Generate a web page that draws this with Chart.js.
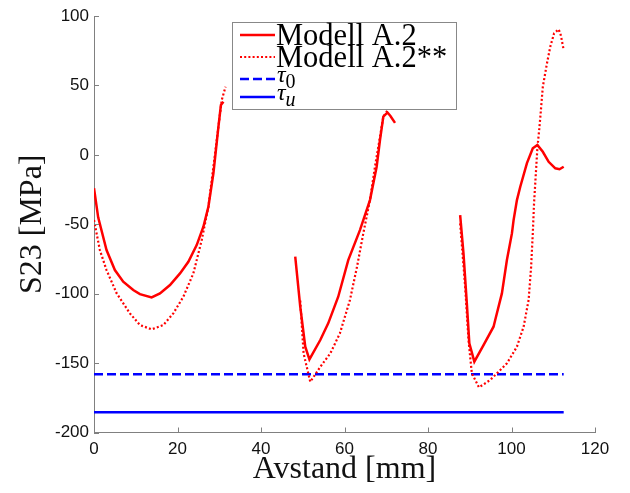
<!DOCTYPE html>
<html>
<head>
<meta charset="utf-8">
<script src="https://cdn.jsdelivr.net/npm/chart.js@4.4.1/dist/chart.umd.min.js"></script>
<style>
  html, body { margin: 0; padding: 0; background: #fff; overflow: hidden; }
  canvas { display: block; }
</style>
</head>
<body>
<canvas id="chart" width="630" height="493"></canvas>
<script>
// ── Data (null = break between the three segments) ──────────────────────────
const modelA2X = [0, 1.0, 3.0, 5.0, 7.0, 9.4, 11.0, 13.8, 15.8, 18.2, 20.6, 22.6, 24.6, 26.2, 27.4, 28.6, 29.8, 30.4, 31.0,
    null, 48.2, 49.4, 50.6, 51.6, 54.2, 56.1, 58.5, 60.9, 63.7, 66.1, 67.7, 68.5, 69.3, 70.3, 71.0, 72.1,
    null, 87.7, 88.5, 89.3, 89.9, 91.1, 93.3, 95.7, 96.1, 97.7, 98.9, 100.1, 100.5, 101.3, 102.1, 103.7,
    105.1, 106.2, 107.5, 108.9, 110.5, 111.5, 112.5];
const modelA2Y = [-24, -45, -68.6, -83, -91.4, -97.4, -100.3, -102.7, -99.8, -93.8, -85.4, -77, -65, -51.8, -37.4, -13.3, 20.2, 35.9, 38.3,
    null, -73.4, -109.4, -138.2, -147.3, -133.4, -121.4, -102.2, -75.8, -54.2, -32.6, -8.6, 10.7, 27.5, 30.5, 28, 23,
    null, -43.4, -71, -107, -135.8, -149, -137, -123.8, -119, -99.8, -75.8, -56.6, -47, -32.6, -23, -6,
    4.7, 7.1, 2.2, -5, -9.7, -10.4, -8.6];

const modelA2sX = [0, 1.4, 3.0, 5.4, 8.6, 11, 13.8, 16.6, 19, 21.4, 23.8, 25.8, 27.4, 28.6, 29.8, 30.6, 31.5,
    null, 49.4, 50.2, 51.8, 54.2, 56.6, 58.9, 61.3, 63, 64.5, 66.1, 67.3, 68.5, 69.3, 70.3,
    null, 87.7, 88.9, 89.7, 90.5, 92.2, 94.9, 96.5, 98.9, 101.3, 102.9, 104.1, 104.7, 105.1, 105.4, 105.8,
    106.2, 106.6, 106.9, 107.5, 108.5, 109.3, 110.2, 111.3, 111.8, 112.5];
const modelA2sY = [-47, -68.6, -83, -99.6, -114.2, -122.6, -125.7, -122.6, -114.2, -102.2, -85.4, -61.4, -37.4, -8.6, 20.2, 39.5, 49,
    null, -105, -143, -163.5, -152.7, -143, -128.6, -104.6, -80.6, -56.6, -32.6, -8.6, 13, 27.5, 32,
    null, -49.4, -95, -133.4, -157.4, -167.5, -162.2, -157.4, -150.2, -138.2, -123.8, -104.6, -80.6, -56.6, -35, -15,
    5, 17, 27, 49, 66, 78, 87.5, 90.4, 86.3, 75.5];

const tauX  = [0, 112.5];
const tau0Y = [-158, -158];
const tauUY = [-185.5, -185.5];

const xTicks = [0, 20, 40, 60, 80, 100, 120];
const yTicks = [-200, -150, -100, -50, 0, 50, 100];

const labels = ['Modell A.2', 'Modell A.2**', 'τ0', 'τu'];

function pts(xs, ys) {
    return xs.map((x, i) => ({ x: x, y: ys[i] }));
}

// ── Inward tick marks (MATLAB style) ──────────────────────────────────────────
const innerTicks = {
    id: 'innerTicks',
    afterDraw(chart) {
        const { ctx, chartArea: a, scales: { x, y } } = chart;
        ctx.save();
        ctx.strokeStyle = '#808080';
        ctx.lineWidth = 1;
        ctx.beginPath();
        xTicks.forEach(v => {
            const px = Math.round(x.getPixelForValue(v)) + 0.5;
            ctx.moveTo(px, a.bottom); ctx.lineTo(px, a.bottom - 5);
        });
        yTicks.forEach(v => {
            const py = Math.round(y.getPixelForValue(v)) + 0.5;
            ctx.moveTo(a.left, py); ctx.lineTo(a.left + 5, py);
        });
        ctx.stroke();
        ctx.restore();
    }
};

// ── Legend box inside the plot ───────────────────────────────────────────────
const boxLegend = {
    id: 'boxLegend',
    afterDraw(chart) {
        const ctx = chart.ctx;
        const bx = 232.5, by = 22.5, bw = 224, bh = 87;
        const rows = [35, 57, 79, 97];
        ctx.save();
        ctx.fillStyle = '#fff';
        ctx.fillRect(bx, by, bw, bh);
        ctx.strokeStyle = '#888';
        ctx.lineWidth = 1;
        ctx.strokeRect(bx, by, bw, bh);
        chart.data.datasets.forEach((ds, i) => {
            const ly = rows[i];
            ctx.strokeStyle = ds.borderColor;
            ctx.lineWidth = ds.borderWidth;
            ctx.setLineDash(ds.borderDash || []);
            ctx.beginPath();
            ctx.moveTo(240, ly); ctx.lineTo(275, ly);
            ctx.stroke();
            ctx.setLineDash([]);
            ctx.fillStyle = '#000';
            ctx.textBaseline = 'alphabetic';
            const txt = ds.label;
            if (txt.startsWith('τ')) {
                ctx.font = 'italic 24px "Liberation Serif"';
                ctx.fillText('τ', 277, ly + 3);
                const w = ctx.measureText('τ').width;
                const sub = txt.slice(1);
                ctx.font = (sub === 'u' ? 'italic ' : '') + '20px "Liberation Serif"';
                ctx.fillText(sub, 277 + w, ly + 9);
            } else {
                ctx.font = '30.5px "Liberation Serif"';
                ctx.fillText(txt, 276, ly + 10);
            }
        });
        ctx.restore();
    }
};

new Chart(document.getElementById('chart').getContext('2d'), {
    type: 'line',
    data: {
        datasets: [{
            label: labels[0],
            data: pts(modelA2X, modelA2Y),
            borderColor: '#ff0000',
            borderWidth: 2.5,
        }, {
            label: labels[1],
            data: pts(modelA2sX, modelA2sY),
            borderColor: '#ff0000',
            borderWidth: 2.2,
            borderDash: [2, 2.2],
        }, {
            label: labels[2],
            data: pts(tauX, tau0Y),
            borderColor: '#0000ff',
            borderWidth: 2.5,
            borderDash: [9, 4],
        }, {
            label: labels[3],
            data: pts(tauX, tauUY),
            borderColor: '#0000ff',
            borderWidth: 2.5,
        }]
    },
    options: {
        responsive: false,
        animation: false,
        devicePixelRatio: 1,
        spanGaps: false,
        elements: { point: { radius: 0 }, line: { tension: 0, borderCapStyle: 'butt' } },
        layout: { padding: { left: 0, top: 16, right: 35, bottom: 0 } },
        plugins: { legend: { display: false }, tooltip: { enabled: false } },
        scales: {
            x: {
                type: 'linear',
                min: 0, max: 120,
                afterBuildTicks: s => { s.ticks = xTicks.map(v => ({ value: v })); },
                afterFit: s => { s.height = 60.5; },
                grid: { display: false, drawTicks: false },
                border: { color: '#808080', width: 1 },
                ticks: { color: '#111', padding: 7, font: { family: '"Liberation Sans", Arial', size: 17 } },
                title: {
                    display: true, text: 'Avstand [mm]', color: '#111',
                    font: { family: '"Liberation Serif"', size: 32 }, padding: { top: 0, bottom: 4 }
                }
            },
            y: {
                type: 'linear',
                min: -200, max: 100,
                afterBuildTicks: s => { s.ticks = yTicks.map(v => ({ value: v })); },
                afterFit: s => { s.width = 94; },
                grid: { display: false, drawTicks: false },
                border: { color: '#808080', width: 1 },
                ticks: { color: '#111', padding: 5, font: { family: '"Liberation Sans", Arial', size: 17 } },
                title: {
                    display: true, text: 'S23 [MPa]', color: '#111',
                    font: { family: '"Liberation Serif"', size: 32 }, padding: { top: 13, bottom: 0 }
                }
            }
        }
    },
    plugins: [innerTicks, boxLegend]
});
</script>
</body>
</html>
